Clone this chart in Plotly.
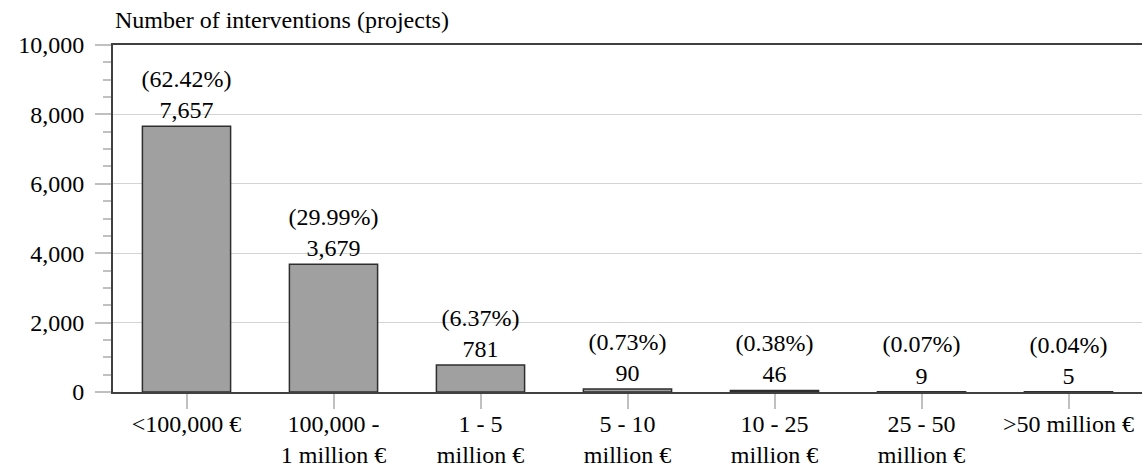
import plotly.graph_objects as go

# cost classes of the interventions
categories = ["&lt;100,000 €", "100,000 -<br>1 million €", "1 - 5<br>million €",
              "5 - 10<br>million €", "10 - 25<br>million €", "25 - 50<br>million €",
              "&gt;50 million €"]
projects = [7657, 3679, 781, 90, 46, 9, 5]
shares = [62.42, 29.99, 6.37, 0.73, 0.38, 0.07, 0.04]

FONT = "Liberation Serif, Times New Roman, serif"
SIZE = 24

labels = ["(%.2f%%)<br>%s" % (s, format(p, ",")) for s, p in zip(shares, projects)]

fig = go.Figure(go.Bar(
    x=categories, y=projects,
    marker=dict(color="#a0a0a0", line=dict(color="#2e2e2e", width=1.5)),
    text=labels, textposition="outside", constraintext="none", cliponaxis=False,
    textfont=dict(family=FONT, size=SIZE, color="black"),
))

fig.update_layout(
    width=1145, height=474,
    margin=dict(l=113, r=3, t=45, b=82),
    plot_bgcolor="white", paper_bgcolor="white",
    bargap=0.4, showlegend=False,
    font=dict(family=FONT, size=SIZE, color="black"),
    annotations=[dict(text="Number of interventions (projects)", x=0, y=1,
                      xref="paper", yref="paper", xanchor="left", yanchor="bottom",
                      yshift=10, showarrow=False, font=dict(family=FONT, size=SIZE))],
)
fig.update_xaxes(showline=True, linecolor="#404040", linewidth=2, mirror=True,
                 ticks="outside", ticklen=15, tickcolor="#c0c0c0", tickwidth=1.5,
                 ticklabelstandoff=-6)
fig.update_yaxes(range=[0, 10000], dtick=2000, tickformat=",d",
                 showline=True, linecolor="#404040", linewidth=2,
                 gridcolor="#d4d4d4", gridwidth=1, zeroline=False,
                 ticks="outside", ticklen=16, tickcolor="#c0c0c0", tickwidth=1.5,
                 ticklabelstandoff=6,
                 minor=dict(dtick=500, ticks="outside", ticklen=8, tickcolor="#c0c0c0",
                            showgrid=False))

# drop the default 8px page margin so the figure sits at the window corner
fig.write_html("out.html", config={"displayModeBar": False},
               post_script="document.body.style.margin='0px';")
